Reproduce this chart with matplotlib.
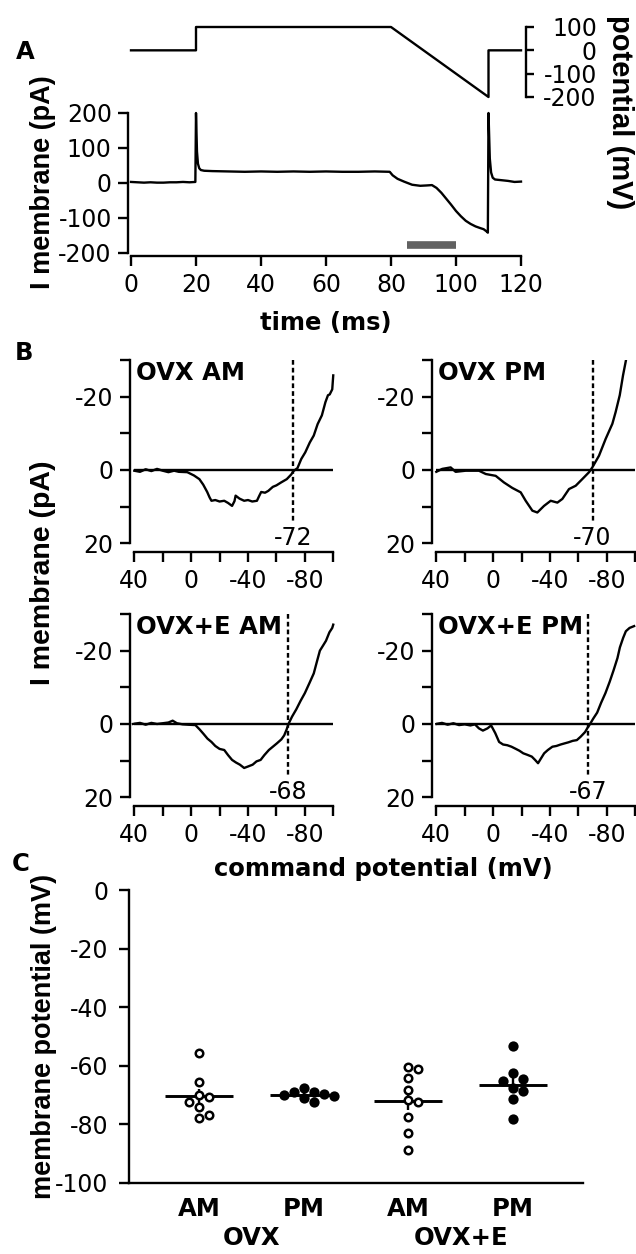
import numpy as np
import matplotlib
matplotlib.use('Agg')
import matplotlib.pyplot as plt

# ---------------- data ----------------
# Panel A: command protocol and membrane current
cmd_time_ms = [0, 20, 20, 80, 110, 110, 120]
cmd_mV = [0, 0, 100, 100, -200, 0, 0]

cur_time_ms = [0, 2, 4, 6, 8, 10, 12, 14, 16, 18, 19.8, 20.0, 20.3, 20.6, 21.0, 21.5,
               22.5, 25, 30, 35, 40, 45, 50, 55, 60, 65, 70, 75, 79.6, 80.5, 82, 84,
               86.5, 89, 91, 92.6, 94, 95.5, 97, 98.5, 100, 101.5, 103, 104.5, 106,
               107.5, 108.5, 109.5, 109.8, 110.0, 110.4, 110.8, 111.3, 112, 114, 116,
               118, 120]
cur_pA = [3, 2, 1, 2, 1, 1, 2, 2, 3, 2, 3, 200, 90, 55, 42, 37,
          35, 34, 33, 32, 33, 32, 33, 32, 33, 32, 32, 33, 32, 22, 12, 4,
          -5, -8, -7, -6, -14, -28, -45, -62, -80, -95, -108, -117, -124,
          -129, -132, -139, -142, 200, 70, 30, 15, 10, 8, 6,
          3, 4]
bar_window_ms = [85, 100]
bar_level_pA = -178

# Panel B: I-V relations (command potential mV, current pA)
iv_titles = ['OVX AM', 'OVX PM', 'OVX+E AM', 'OVX+E PM']
iv_reversal_mV = [-72, -70, -68, -67]

ovx_am_V = [40, 36, 32, 28, 24, 20, 16, 12, 8.7, 2.7, -2, -5.8, -8.5, -11.3, -13, -14.3,
            -17, -20, -23.3, -26, -28.8, -30.5, -31.3, -34, -37.3, -40, -43, -46.3, -48,
            -49.3, -52, -54.3, -57.5, -60, -63.3, -67.3, -70.5, -72, -74.8, -77.5, -80.3,
            -83.5, -86.3, -89, -92, -94.5, -96.3, -97.5, -99.3, -100]
ovx_am_I = [0.2, 0.5, -0.2, 0.3, -0.3, 0.2, 0.6, 0.2, 0.5, 0.6, 1.5, 2.5, 4, 6, 7.5, 8.4,
            8.2, 8.6, 8.4, 9, 9.8, 8.5, 7, 7.8, 8.4, 8.2, 8.6, 8.4, 7,
            6, 6.2, 5.7, 4.6, 4.2, 3.4, 2.5, 1.2, 0.3, -0.5, -3, -4.8,
            -7.5, -9.4, -12.5, -14.9, -18.5, -20.4, -20.6, -22, -25.8]

ovx_pm_V = [40, 35.8, 29.9, 26.4, 19.3, 10, 5.2, -1.8, -7.6, -13.5, -19.4, -22.9, -27.6,
            -31.1, -35.8, -40.5, -45.2, -48.7, -53.4, -58.1, -62.7, -67.5, -69.8, -74.5,
            -79.2, -83.9, -86.2, -89.1, -91.4, -93.7]
ovx_pm_I = [0.5, -0.3, -0.7, 0.5, 0.2, 0.2, 1.1, 1.6, 3.4, 4.9, 6.1, 8.4, 11.1,
            11.6, 9.8, 8.4, 8.9, 7.9, 5.2, 4.3, 2.5, 0.6, -0.7, -3.9,
            -8.5, -12.6, -15.8, -20.4, -25.8, -30.4]

ovxe_am_V = [41, 36, 32, 28, 24, 20, 16, 13, 10, 6, 2, -3, -6, -8.7, -11.5, -14.3, -17,
             -20, -23.3, -26, -28.8, -31.5, -34.3, -37.3, -40, -43.3, -46, -48.9, -51.5,
             -54.7, -57.5, -60.3, -63.5, -65.5, -67.2, -68.5, -71, -74, -77, -80, -83.3,
             -86.3, -88.5, -90.6, -93, -94.9, -97.3, -99.3, -100]
ovxe_am_I = [0, -0.3, 0.2, -0.3, 0, -0.2, -0.4, -0.9, -0.2, 0.1, 0.2, 0.3, 1.5, 2.7, 4, 4.9, 6,
             6.8, 7.1, 8.5, 9.8, 10.5, 11.1, 12, 11.6, 11.1, 10.2, 9.8, 8.5,
             7.1, 6.2, 5.3, 4.2, 3.1, 1.5, 0, -2, -4, -6.3, -8.4, -11.2,
             -13.8, -17, -20, -21.5, -22.7, -25, -26.2, -27.1]

ovxe_pm_V = [40, 36, 32, 28, 24, 20, 16, 12.8, 10, 7.2, 4, 1.4, -1.5, -4.2, -7, -10, -12.9,
             -16, -18.5, -21.2, -24, -27.2, -29.5, -31.6, -33.5, -35.9, -38.5, -41.7, -44.5,
             -47.5, -50.2, -53, -56, -58.9, -61.5, -64.7, -66.5, -68.2, -70.5, -73.2, -76,
             -79, -82, -84.8, -87.5, -89.2, -91.5, -93.4, -96, -99.2]
ovxe_pm_I = [0, -0.3, 0.2, -0.2, 0.3, 0.1, 0.4, 0.1, 1.2, 1.8, 1.2, 0.4, 2.5, 4.9, 5.6, 5.8, 6.2,
             6.8, 7.3, 8, 8.4, 8.9, 9.8, 10.7, 9.5, 8, 7.1, 6.2, 6,
             5.6, 5.3, 5, 4.6, 4.4, 3.5, 2.2, 1, 0, -1.5, -3.1, -5.8,
             -8.4, -11.5, -14.7, -18, -20.9, -23.5, -25.3, -26.2, -26.7]

iv_xticks = [40, 20, 0, -20, -40, -60, -80, -100]
iv_xticklabels = ['40', '', '0', '', '-40', '', '-80', '']
iv_yticks = [-30, -20, -10, 0, 10, 20]
iv_yticklabels = ['', '-20', '', '0', '', '20']

# Panel C: resting membrane potential (mV)
c_time_labels = ['AM', 'PM', 'AM', 'PM']
c_treatments = ['OVX', 'OVX+E']
ovx_am_vm = [-55.5, -65.6, -70.5, -70.0, -72.2, -73.9, -77.9, -76.8]
ovx_pm_vm = [-68.8, -69.6, -70.4, -67.6, -72.5, -71.0, -70.0, -68.8]
ovxe_am_vm = [-60.5, -61.1, -64.3, -68.3, -71.7, -72.3, -77.4, -83.0, -88.6]
ovxe_pm_vm = [-53.1, -62.6, -65.3, -64.6, -68.5, -67.6, -71.4, -78.2]
c_yticks = [0, -20, -40, -60, -80, -100]

# ---------------- style ----------------
plt.rcParams['axes.unicode_minus'] = False
plt.rcParams['font.family'] = ['DejaVu Sans']
W, H = 636, 1254
LW = 1.7
TICK_FS = 17
LABEL_FS = 17.5
TLEN = 7
ROT_FAMILY = ['Liberation Sans', 'DejaVu Sans']

fig = plt.figure(figsize=(W / 100, H / 100), dpi=100)


def px_axes(l, t, r, b):
    return fig.add_axes([l / W, 1 - b / H, (r - l) / W, (b - t) / H])


def style(ax, xb, yb, xpad, ypad):
    for s in ('top', 'right'):
        ax.spines[s].set_visible(False)
    for s in ('left', 'bottom'):
        ax.spines[s].set_linewidth(LW)
    if xb is not None:
        ax.spines['bottom'].set_bounds(*xb)
    if yb is not None:
        ax.spines['left'].set_bounds(*yb)
    ax.tick_params(width=LW, length=TLEN, labelsize=TICK_FS, direction='out')
    ax.tick_params(axis='x', pad=xpad)
    ax.tick_params(axis='y', pad=ypad)
    ax.patch.set_visible(False)


# ---------------- Panel A ----------------
pxms = 3.25
a_left = 131 - pxms
axV = px_axes(a_left, 27, 521, 97)
axV.plot(cmd_time_ms, cmd_mV, color='k', lw=LW, clip_on=False)
axV.set_xlim(-1, 120)
axV.set_ylim(-200, 100)
for s in ('left', 'top', 'bottom'):
    axV.spines[s].set_visible(False)
axV.spines['right'].set_linewidth(LW)
axV.spines['right'].set_position(('outward', 3.6))
axV.yaxis.tick_right()
axV.set_yticks([100, 0, -100, -200])
axV.set_xticks([])
axV.tick_params(axis='y', direction='out', length=6, width=LW, labelsize=TICK_FS, pad=45)
for lbl in axV.get_yticklabels():
    lbl.set_ha('right')
axV.patch.set_visible(False)

axI = px_axes(a_left, 113, 521, 256)
axI.plot(cur_time_ms, cur_pA, color='k', lw=LW, clip_on=False)
axI.plot(bar_window_ms, [bar_level_pA] * 2, color='#616161', lw=5.5, solid_capstyle='butt')
axI.set_xlim(-1, 120)
axI.set_ylim(-208.6, 200)
axI.set_xticks(np.arange(0, 121, 20))
axI.set_yticks(np.arange(-200, 201, 100))
style(axI, (0, 120), (-200, 200), 5, 4.5)

fig.text(326 / W, 1 - 323 / H, 'time (ms)', ha='center', va='center',
         fontsize=LABEL_FS, fontweight='bold')
fig.text(43 / W, 1 - 182 / H, 'I membrane (pA)', ha='center', va='center', rotation=90,
         fontsize=19.5, fontweight='bold', family=ROT_FAMILY)
fig.text(620 / W, 1 - 112 / H, 'potential (mV)', ha='center', va='center', rotation=-90,
         fontsize=21, fontweight='bold', family=ROT_FAMILY)

# ---------------- Panel B ----------------
iv_V = [ovx_am_V, ovx_pm_V, ovxe_am_V, ovxe_pm_V]
iv_I = [ovx_am_I, ovx_pm_I, ovxe_am_I, ovxe_pm_I]
pxmV = 1.421
col_left = [130, 432]
row_top = [360, 614]
ax_w = 4.3 + 140 * pxmV + 3
ax_h = 191.7
pxpA = 183.3 / 50

for k in range(4):
    r, c = divmod(k, 2)
    l = col_left[c]
    t = row_top[r]
    ax = px_axes(l, t, l + ax_w, t + ax_h)
    xl = 40 + 4.3 / pxmV
    ax.set_xlim(xl, xl - ax_w / pxmV)
    ax.set_ylim(-30 + ax_h / pxpA, -30)
    ax.hlines(0, max(iv_xticks), min(iv_xticks), color='k', lw=LW)
    ax.plot(iv_V[k], iv_I[k], color='k', lw=LW)
    rev = iv_reversal_mV[k]
    ax.vlines(rev, -30, 14.3, color='k', lw=LW, linestyles=(0, (2.0, 1.3)))
    ax.text(rev, 20.4, str(rev), ha='center', va='baseline', fontsize=TICK_FS)
    ax.text(0.03, 1 - 1.2 / ax_h, iv_titles[k], transform=ax.transAxes, ha='left',
            va='top', fontsize=LABEL_FS, fontweight='bold')
    ax.set_xticks(iv_xticks, iv_xticklabels)
    ax.set_yticks(iv_yticks, iv_yticklabels)
    style(ax, (max(iv_xticks), min(iv_xticks)), (-30, 20), 5.5, 5)

fig.text(383 / W, 1 - 869 / H, 'command potential (mV)', ha='center', va='center',
         fontsize=LABEL_FS, fontweight='bold')
fig.text(43 / W, 1 - 573 / H, 'I membrane (pA)', ha='center', va='center', rotation=90,
         fontsize=20.5, fontweight='bold', family=ROT_FAMILY)

# ---------------- Panel C ----------------
axC = px_axes(129, 890, 583, 1183)
axC.set_xlim(0.33, 4.67)
axC.set_ylim(-100, 0)
groups = [ovx_am_vm, ovx_pm_vm, ovxe_am_vm, ovxe_pm_vm]
filled = [False, True, False, True]
px_per_x = (583 - 129) / (4.67 - 0.33)
px_per_mV = (1183 - 890) / 100.0


def swarm_offsets(vals, step=10.0, min_d=9.6):
    vals = np.asarray(vals, dtype=float)
    order = np.argsort(-vals)
    placed = []
    offs = np.zeros(len(vals))
    cands = [0.0]
    for j in range(1, 12):
        cands += [j * step, -j * step]
    for i in order:
        y = vals[i] * px_per_mV
        for cnd in cands:
            if all(np.hypot(cnd - px, y - py) >= min_d for px, py in placed):
                break
        placed.append((cnd, y))
        offs[i] = cnd / px_per_x
    return offs


for i, vals in enumerate(groups):
    pos = i + 1
    v = np.asarray(vals)
    m = v.mean()
    sem = v.std(ddof=1) / np.sqrt(len(v))
    axC.hlines(m, pos - 0.325, pos + 0.325, color='k', lw=2.1, zorder=2)
    axC.vlines(pos, m - sem, m + sem, color='k', lw=LW, zorder=2)
    xs = pos + swarm_offsets(vals)
    if filled[i]:
        axC.plot(xs, v, 'o', ms=7.4, mfc='k', mec='k', mew=0, zorder=3, clip_on=False)
    else:
        axC.plot(xs, v, 'o', ms=5.4, mfc='white', mec='k', mew=1.8, zorder=3, clip_on=False)

axC.set_xticks([1, 2, 3, 4], c_time_labels)
axC.set_yticks(c_yticks)
style(axC, None, None, 10, 8)
axC.tick_params(axis='x', length=0, labelsize=LABEL_FS)
for lbl in axC.get_xticklabels():
    lbl.set_fontweight('bold')
for g, name in enumerate(c_treatments):
    axC.text(np.mean([2 * g + 1, 2 * g + 2]), -(1238 - 1183) / 293.0, name,
             transform=axC.get_xaxis_transform(), ha='center', va='center',
             fontsize=LABEL_FS, fontweight='bold')

fig.text(44 / W, 1 - 1036 / H, 'membrane potential (mV)', ha='center', va='center',
         rotation=90, fontsize=19.5, fontweight='bold', family=ROT_FAMILY)

# panel letters
for letter, (x, y) in zip('ABC', [(25, 52), (24, 353), (21, 864)]):
    fig.text(x / W, 1 - y / H, letter, ha='center', va='center', fontsize=LABEL_FS,
             fontweight='bold')

fig.savefig('out.png', dpi=100)
